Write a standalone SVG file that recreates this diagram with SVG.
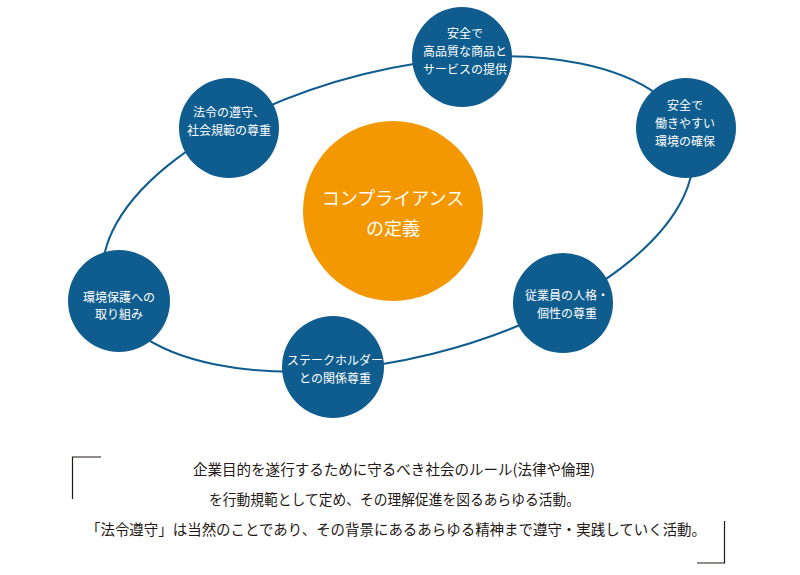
<svg xmlns="http://www.w3.org/2000/svg" width="800" height="575" viewBox="0 0 800 575">
<style>
.conn{fill:none;stroke:#0e5d8e;stroke-width:2}
.node{fill:#0e5d8e}
.core{fill:#f39800}
.lbl{font-family:"Noto Sans CJK JP","Noto Sans",sans-serif;fill:#ffffff;font-size:12px;text-anchor:middle}
.big{font-size:18px}
.desc{font-family:"Noto Sans CJK JP","Noto Sans",sans-serif;fill:#231815;font-size:14.5px;text-anchor:middle}
.brk{fill:none;stroke:#231815;stroke-width:1.2}
</style>
<rect width="800" height="575" fill="#ffffff"/>
<g id="connectors">
<ellipse class="conn" cx="398" cy="214" rx="302" ry="144" transform="rotate(-14 398 214)"/>
</g>
<g id="core">
<circle class="core" cx="393" cy="211" r="90"/>
<text class="lbl big" x="393" y="205">コンプライアンス</text>
<text class="lbl big" x="393" y="235">の定義</text>
</g>
<g id="n-quality">
<circle class="node" cx="462" cy="57" r="50"/>
<text class="lbl" x="465" y="38">安全で</text>
<text class="lbl" x="465" y="56">高品質な商品と</text>
<text class="lbl" x="465" y="73.5">サービスの提供</text>
</g>
<g id="n-law">
<circle class="node" cx="229" cy="128" r="50"/>
<text class="lbl" x="229" y="116.5">法令の遵守、</text>
<text class="lbl" x="229" y="134.5">社会規範の尊重</text>
</g>
<g id="n-workplace">
<circle class="node" cx="686" cy="128" r="50"/>
<text class="lbl" x="685" y="109.5">安全で</text>
<text class="lbl" x="685" y="127.5">働きやすい</text>
<text class="lbl" x="685" y="145.5">環境の確保</text>
</g>
<g id="n-environment">
<circle class="node" cx="119" cy="301" r="51"/>
<text class="lbl" x="119" y="301.5">環境保護への</text>
<text class="lbl" x="119" y="318.5">取り組み</text>
</g>
<g id="n-employee">
<circle class="node" cx="563" cy="303" r="50"/>
<text class="lbl" x="567" y="299.5">従業員の人格・</text>
<text class="lbl" x="567" y="317.5">個性の尊重</text>
</g>
<g id="n-stakeholder">
<circle class="node" cx="333" cy="367" r="51"/>
<text class="lbl" x="335" y="364.5">ステークホルダー</text>
<text class="lbl" x="335" y="382.5">との関係尊重</text>
</g>
<g id="description">
<polyline class="brk" points="101,457 72.5,457 72.5,499"/>
<polyline class="brk" points="724.5,521 724.5,563 697,563"/>
<text class="desc" x="394" y="475" textLength="402" lengthAdjust="spacingAndGlyphs">企業目的を遂行するために守るべき社会のルール(法律や倫理)</text>
<text class="desc" x="394.5" y="505" textLength="371" lengthAdjust="spacingAndGlyphs">を行動規範として定め、その理解促進を図るあらゆる活動。</text>
<text class="desc" x="396" y="535" textLength="620" lengthAdjust="spacingAndGlyphs">「法令遵守」は当然のことであり、その背景にあるあらゆる精神まで遵守・実践していく活動。</text>
</g>
</svg>
